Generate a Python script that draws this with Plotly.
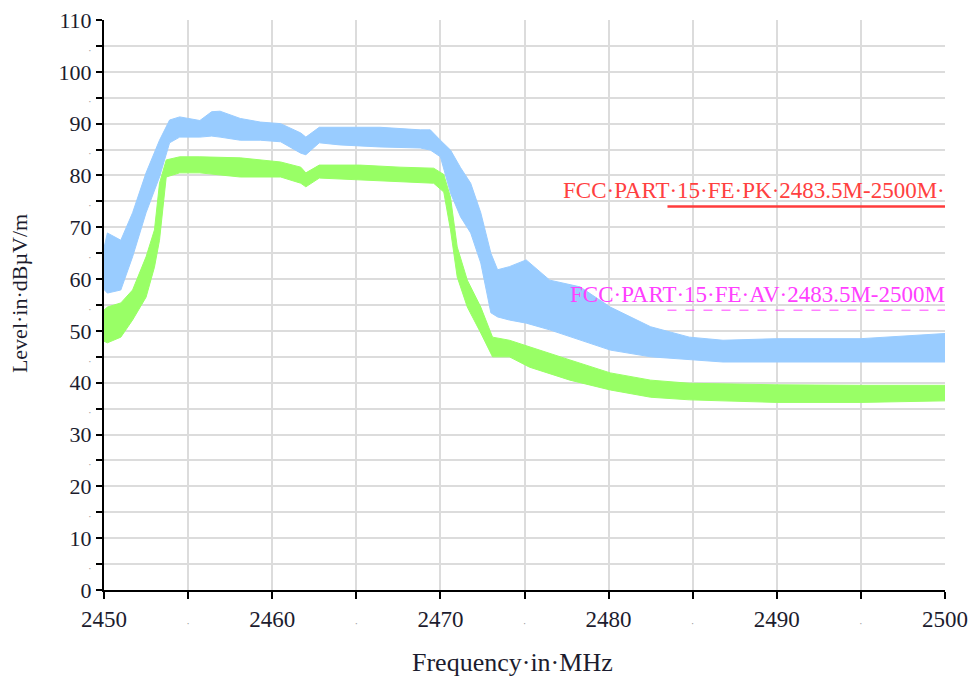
import plotly.graph_objects as go

# Peak (PK) trace envelope, dBµV/m
freq_pk = [2450, 2450.2, 2451, 2451.7, 2452.5, 2453.3, 2453.9, 2454.5, 2455.7, 2456.4, 2456.9,
           2458.1, 2459.3, 2460.5, 2461.7, 2462.0, 2462.8, 2464, 2466.4, 2468.8, 2469.4,
           2470, 2470.6, 2471.2, 2471.8, 2472.4, 2473.0, 2473.4, 2474.1, 2475.1, 2476.5,
           2478.3, 2480.1, 2482.5, 2484.8, 2486.8, 2490, 2495, 2500]
pk_upper = [66, 68.9, 67.5, 72.8, 80.5, 86.8, 90.7, 91.3, 90.6, 92.3, 92.4,
            91.0, 90.3, 90, 88.2, 87.4, 89.3, 89.3, 89.3, 88.8, 88.8,
            86.8, 84.9, 81.5, 78.5, 72.8, 65, 61.8, 62.4, 63.7, 59.8,
            58.5, 54.6, 50.8, 48.8, 48.2, 48.5, 48.5, 49.5]
pk_lower = [58, 57.3, 57.9, 64.3, 72.8, 79.7, 86.3, 87.4, 87.4, 87.6, 87.4,
            86.8, 86.8, 86.5, 84.3, 84, 86.3, 85.9, 85.5, 85.3, 84.9,
            83.6, 76.6, 72, 68.9, 63.1, 53.5, 52.7, 52.1, 51.5, 50.2,
            48.2, 46.3, 45, 44.4, 44, 44, 44, 44]

# Average (AV) trace envelope, dBµV/m
freq_av = [2450, 2450.2, 2451, 2451.7, 2452.5, 2453, 2453.3, 2453.7, 2454.5, 2455.7,
           2458.1, 2460.5, 2461.7, 2462, 2462.8, 2465.2, 2467.6, 2469.6, 2470.2, 2470.6,
           2471, 2471.6, 2472.4, 2473.1, 2474.1, 2475.3, 2477.7, 2480.1, 2482.5, 2484.8,
           2486.8, 2490, 2495, 2500]
av_upper = [54, 54.6, 55.4, 57.9, 64.3, 69.5, 78.5, 83, 83.6, 83.6,
            83.4, 82.6, 81.6, 80.5, 82, 82, 81.6, 81.4, 80.2, 75.8,
            66.2, 59.8, 54.6, 48.8, 48.2, 46.9, 44.4, 41.9, 40.5, 39.9,
            39.8, 39.6, 39.5, 39.5]
av_lower = [48, 47.7, 48.8, 52.1, 56.5, 62.3, 67.5, 79.7, 80.5, 80.5,
            79.7, 79.7, 78.5, 77.8, 79.5, 79.1, 78.7, 78.5, 76.8, 69.5,
            60.4, 54.6, 49.6, 45, 45, 43, 40.5, 38.6, 37.2, 36.7,
            36.5, 36.2, 36.2, 36.5]

# Limit lines
limit_freq = [2483.5, 2500]
limit_pk = [74, 74]
limit_av = [54, 54]
label_pk = "FCC·PART·15·FE·PK·2483.5M-2500M·"
label_av = "FCC·PART·15·FE·AV·2483.5M-2500M"

# Ticks
DOT = "<span style='font-size:11px;color:#9a9a9a'>·</span>"
x_ticks = [2450, 2455, 2460, 2465, 2470, 2475, 2480, 2485, 2490, 2495, 2500]
x_text = ["2450", DOT, "2460", DOT, "2470", DOT, "2480", DOT, "2490", DOT, "2500"]
y_ticks = list(range(0, 115, 5))
y_text = [str(v) if v % 10 == 0 else DOT for v in y_ticks]

BLUE = "#99CCFF"
GREEN = "#99FF66"
FONT = "Liberation Serif, Times New Roman, serif"
TXT = "#1c1c2e"

fig = go.Figure()
fig.add_trace(go.Scatter(x=freq_pk, y=pk_lower, mode="lines",
                         line=dict(color=BLUE, width=1), showlegend=False, hoverinfo="skip"))
fig.add_trace(go.Scatter(x=freq_pk, y=pk_upper, mode="lines", fill="tonexty",
                         fillcolor=BLUE, line=dict(color=BLUE, width=1), showlegend=False))
fig.add_trace(go.Scatter(x=freq_av, y=av_lower, mode="lines",
                         line=dict(color=GREEN, width=1), showlegend=False, hoverinfo="skip"))
fig.add_trace(go.Scatter(x=freq_av, y=av_upper, mode="lines", fill="tonexty",
                         fillcolor=GREEN, line=dict(color=GREEN, width=1), showlegend=False))
fig.add_trace(go.Scatter(x=limit_freq, y=limit_pk, mode="lines",
                         line=dict(color="#FF3B3B", width=2.5), showlegend=False))
fig.add_trace(go.Scatter(x=limit_freq, y=limit_av, mode="lines",
                         line=dict(color="#FF40FF", width=1, dash="dash"), showlegend=False))

fig.add_annotation(x=limit_freq[1], y=limit_pk[0], text=label_pk, showarrow=False,
                   xanchor="right", yanchor="bottom", yshift=2, xshift=2,
                   font=dict(family=FONT, size=23, color="#FF4040"))
fig.add_annotation(x=limit_freq[1], y=limit_av[0], text=label_av, showarrow=False,
                   xanchor="right", yanchor="bottom", yshift=1, xshift=2,
                   font=dict(family=FONT, size=23, color="#FF40FF"))

# Axis titles placed as annotations
fig.add_annotation(xref="paper", yref="paper", x=0.486, y=-0.128, text="Frequency·in·MHz",
                   showarrow=False, xanchor="center", yanchor="middle",
                   font=dict(family=FONT, size=26, color=TXT))
fig.add_annotation(xref="paper", yref="paper", x=-0.1005, y=0.52, text="Level·in·dBµV/m",
                   showarrow=False, xanchor="center", yanchor="middle", textangle=-90,
                   font=dict(family=FONT, size=22, color=TXT))

fig.update_layout(
    width=973, height=679,
    margin=dict(l=104, r=28, t=20, b=89, autoexpand=False),
    paper_bgcolor="white", plot_bgcolor="white",
    font=dict(family=FONT, size=22, color=TXT),
    xaxis=dict(range=[2450, 2500], tickmode="array", tickvals=x_ticks, ticktext=x_text,
               tickfont=dict(family=FONT, size=23, color=TXT),
               showgrid=True, gridcolor="#DCDCDC", gridwidth=1.5,
               showline=True, linecolor="black", linewidth=2,
               ticks="outside", ticklen=7, tickwidth=2, tickcolor="black",
               ticklabelstandoff=0, ticklabeloverflow="allow", automargin=False,
               zeroline=False),
    yaxis=dict(range=[0, 110], tickmode="array", tickvals=y_ticks, ticktext=y_text,
               tickfont=dict(family=FONT, size=22, color=TXT),
               showgrid=True, gridcolor="#DCDCDC", gridwidth=1.5,
               showline=True, linecolor="black", linewidth=2,
               ticks="outside", ticklen=6, tickwidth=2, tickcolor="black",
               ticklabeloverflow="allow", automargin=False,
               zeroline=False),
)

fig.write_html("out.html", config={"displayModeBar": False},
               post_script="document.body.style.margin='0';document.body.style.overflow='hidden';")
